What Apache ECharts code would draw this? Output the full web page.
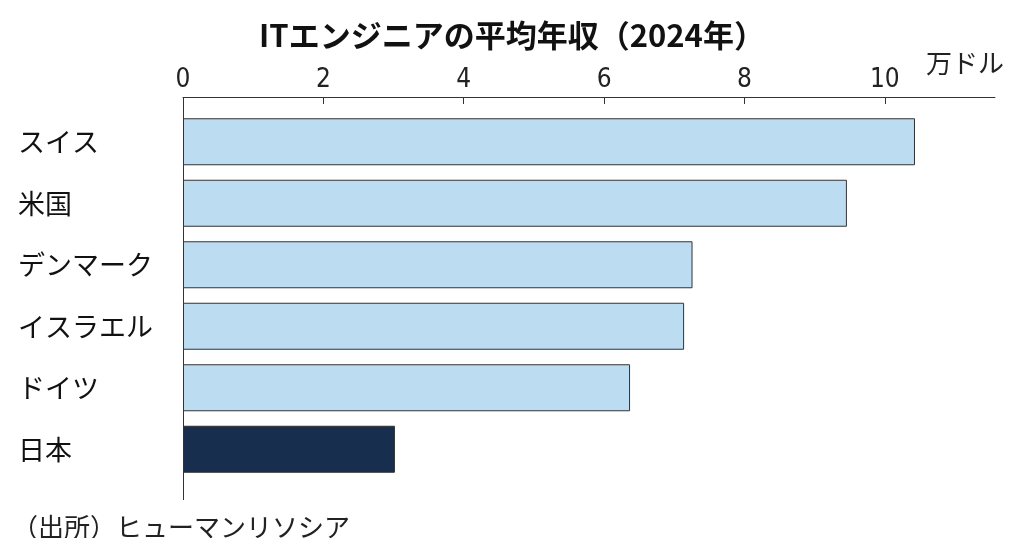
<!DOCTYPE html>
<html>
<head>
<meta charset="utf-8">
<script src="https://cdn.jsdelivr.net/npm/echarts@6/dist/echarts.min.js"></script>
<style>html,body{margin:0;padding:0;background:#fff}#chart{width:1024px;height:538px}</style>
</head>
<body>
<div id="chart"></div>
<script>
// 国名と年収（万ドル）
const countries = ['スイス', '米国', 'デンマーク', 'イスラエル', 'ドイツ', '日本'];
const salaries = [10.43, 9.46, 7.26, 7.14, 6.37, 3.02];
const xTicks = [0, 2, 4, 6, 8, 10];

const jp = '"Noto Sans CJK JP", sans-serif';
const chart = echarts.init(document.getElementById('chart'));

const option = {
  animation: false,
  title: {
    text: 'ITエンジニアの平均年収（2024年）',
    left: 'center', top: 15,
    textStyle: { fontFamily: jp, fontSize: 31, fontWeight: 'bold', color: '#111' }
  },
  grid: { left: 183, right: 29, top: 111, bottom: 58 },
  xAxis: {
    type: 'value', position: 'top', offset: 14,
    min: 0, max: 11.57, interval: 2,
    axisLine: { show: true, lineStyle: { color: '#333', width: 1 } },
    axisTick: { show: true, inside: true, length: 7, customValues: xTicks, lineStyle: { color: '#333' } },
    splitLine: { show: false },
    axisLabel: {
      fontFamily: '"Liberation Sans Narrow", "DejaVu Sans Condensed", sans-serif',
      fontSize: 26, color: '#222', margin: 4,
      customValues: xTicks
    }
  },
  yAxis: {
    type: 'category', inverse: true, data: countries,
    axisLine: { show: false }, axisTick: { show: false },
    axisLabel: { fontFamily: jp, fontSize: 27, color: '#111', align: 'left', margin: 165 }
  },
  series: [{
    type: 'bar', barWidth: 47,
    data: salaries.map((v, i) => ({
      value: v,
      itemStyle: { color: countries[i] === '日本' ? '#172e4f' : '#bcdcf2', borderColor: '#333', borderWidth: 1 }
    }))
  }],
  graphic: [
    { type: 'line', shape: { x1: 183.5, y1: 97, x2: 183.5, y2: 500 }, style: { stroke: '#333', lineWidth: 1 } },
    { type: 'text', left: 926, top: 50, style: { text: '万ドル', font: '26px ' + jp, fill: '#222' } },
    { type: 'text', left: 12, top: 514, style: { text: '（出所）ヒューマンリソシア', font: '26px ' + jp, fill: '#222' } }
  ]
};
chart.setOption(option);
</script>
</body>
</html>
